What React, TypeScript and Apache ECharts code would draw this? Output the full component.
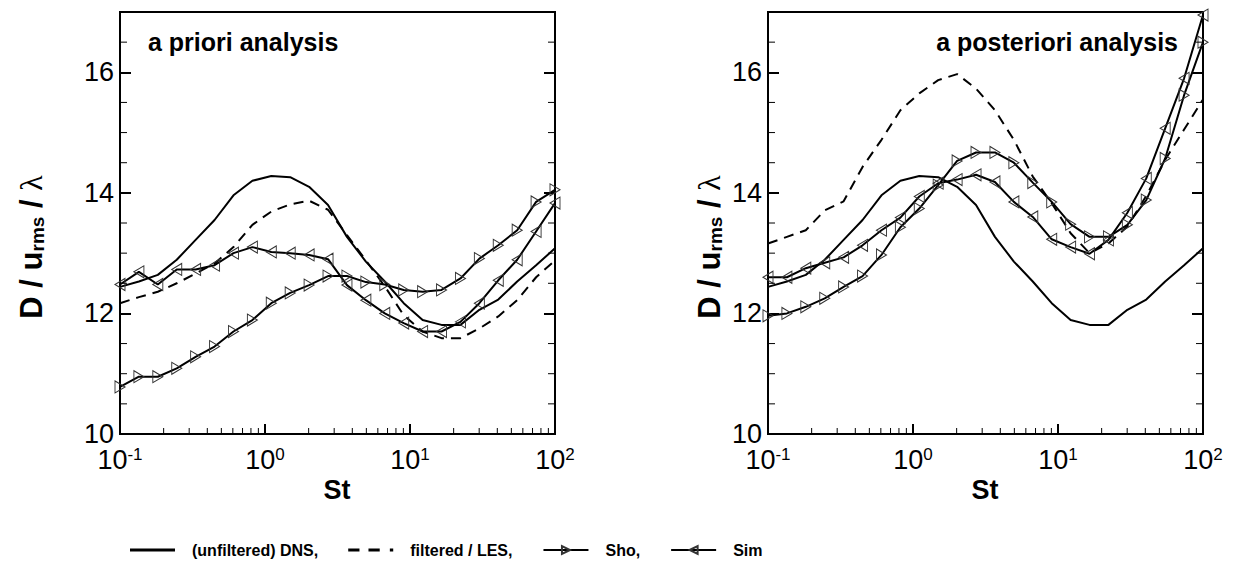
import React, { useEffect, useRef } from 'react';
import * as echarts from 'echarts';

// Stokes numbers (log-spaced sampling of the curves)
const stokes = [0.1, 0.135, 0.1823, 0.2462, 0.3323, 0.4489, 0.6061, 0.8185, 1.105, 1.492, 2.015, 2.721,
  3.674, 4.962, 6.7, 9.05, 12.22, 16.5, 22.28, 30.09, 40.62, 54.85, 74.07, 100];

// (unfiltered) DNS — same reference in both panels
const dnsValues = [12.44, 12.53, 12.64, 12.89, 13.22, 13.55, 13.96, 14.2, 14.28, 14.26, 14.1, 13.8,
  13.27, 12.86, 12.53, 12.17, 11.89, 11.81, 11.81, 12.06, 12.23, 12.53, 12.8, 13.08];

// a priori analysis
const prioriLes = [12.17, 12.27, 12.36, 12.5, 12.66, 12.83, 13.1, 13.47, 13.69, 13.81, 13.87, 13.72,
  13.3, 12.88, 12.45, 11.97, 11.7, 11.59, 11.59, 11.75, 11.95, 12.22, 12.6, 12.88];
const prioriSho = [10.78, 10.95, 10.95, 11.09, 11.28, 11.45, 11.7, 11.89, 12.17, 12.34, 12.47, 12.62,
  12.62, 12.52, 12.48, 12.39, 12.36, 12.39, 12.58, 12.91, 13.13, 13.38, 13.85, 14.05];
const prioriSim = [12.48, 12.69, 12.48, 12.73, 12.73, 12.8, 13.0, 13.1, 13.02, 13.0, 12.97, 12.9,
  12.47, 12.22, 12.0, 11.84, 11.7, 11.7, 11.86, 12.17, 12.55, 12.89, 13.36, 13.83];

// a posteriori analysis
const posterioriLes = [13.16, 13.27, 13.38, 13.71, 13.86, 14.43, 14.88, 15.37, 15.65, 15.87, 15.97, 15.73,
  15.37, 14.88, 14.27, 13.83, 13.33, 13.0, 13.16, 13.44, 13.95, 14.55, 15.05, 15.55];
const posterioriSho = [11.96, 12.0, 12.11, 12.25, 12.44, 12.62, 12.97, 13.43, 13.74, 14.13, 14.53, 14.67,
  14.67, 14.5, 14.17, 13.85, 13.48, 13.27, 13.27, 13.47, 13.88, 14.57, 15.62, 16.5];
const posterioriSim = [12.6, 12.6, 12.75, 12.84, 12.93, 13.13, 13.38, 13.59, 13.94, 14.16, 14.22, 14.3,
  14.18, 13.85, 13.6, 13.23, 13.1, 12.99, 13.22, 13.67, 14.24, 15.07, 15.9, 16.95];

const seriesNames = ['(unfiltered) DNS,', 'filtered / LES,', 'Sho,', 'Sim'];
const panelTitles = ['a priori analysis', 'a posteriori analysis'];
const xMinorTicks = [0.2, 0.3, 0.4, 0.5, 0.6, 0.7, 0.8, 0.9, 2, 3, 4, 5, 6, 7, 8, 9, 20, 30, 40, 50, 60, 70, 80, 90];
const yMinorTicks = [10.5, 11, 11.5, 12.5, 13, 13.5, 14.5, 15, 15.5, 16.5];

const FONT = '"Liberation Sans", Arial, Helvetica, sans-serif';

const pairs = (vals: number[]) => stokes.map((s, i) => [s, vals[i]]);

const tickData = [
  ...xMinorTicks.map((v) => [v, 10, 0]),
  ...yMinorTicks.map((v) => [1, v, 1]),
];

const renderTicks = (params: any, api: any) => {
  const cs = params.coordSys;
  const kind = api.value(2);
  const style = { stroke: '#000', lineWidth: 1 };
  if (kind === 0) {
    const p = api.coord([api.value(0), 10]);
    const yb = cs.y + cs.height;
    return { type: 'line', shape: { x1: p[0], y1: yb, x2: p[0], y2: yb - 6 }, style };
  }
  const p = api.coord([1, api.value(1)]);
  return {
    type: 'group',
    children: [
      { type: 'line', shape: { x1: cs.x, y1: p[1], x2: cs.x + 7, y2: p[1] }, style },
      { type: 'line', shape: { x1: cs.x + cs.width, y1: p[1], x2: cs.x + cs.width - 7, y2: p[1] }, style },
    ],
  };
};

const lineBase = { color: '#000', width: 2 };
const markerStyle = { color: 'rgba(255,255,255,0)', borderColor: '#333', borderWidth: 1 };

function panelSeries(g: number, les: number[], sho: number[], sim: number[]) {
  const axes = { xAxisIndex: g, yAxisIndex: 2 * g };
  return [
    {
      type: 'line', name: seriesNames[0], ...axes, data: pairs(dnsValues), symbol: 'none',
      lineStyle: { ...lineBase }, itemStyle: { color: '#000' }, emphasis: { disabled: true }, z: 4,
    },
    {
      type: 'line', name: seriesNames[1], ...axes, data: pairs(les), symbol: 'none',
      lineStyle: { ...lineBase, type: [10, 7] }, itemStyle: { color: '#000' }, emphasis: { disabled: true }, z: 4,
    },
    {
      type: 'line', name: seriesNames[2], ...axes, data: pairs(sho), symbol: 'triangle', symbolSize: [12, 10],
      symbolRotate: -90, lineStyle: { ...lineBase }, itemStyle: markerStyle, emphasis: { disabled: true }, z: 4,
    },
    {
      type: 'line', name: seriesNames[3], ...axes, data: pairs(sim), symbol: 'triangle', symbolSize: [12, 10],
      symbolRotate: 90, lineStyle: { ...lineBase }, itemStyle: markerStyle, emphasis: { disabled: true }, z: 4,
    },
    {
      type: 'custom', ...axes, data: tickData, renderItem: renderTicks, silent: true, z: 5,
      encode: { x: 0, y: 1 },
    },
  ];
}

function xAxisFor(g: number) {
  return {
    type: 'log', gridIndex: g, logBase: 10, min: 0.1, max: 100,
    axisLine: { show: true, lineStyle: { color: '#000', width: 2 } },
    axisTick: { show: true, inside: true, length: 10, lineStyle: { color: '#000', width: 2 } },
    splitLine: { show: false },
    minorTick: { show: false },
    axisLabel: {
      margin: 12,
      color: '#000',
      formatter: (v: number) => `{b|10}{s|${Math.round(Math.log10(v))}}`,
      rich: {
        b: { fontSize: 27, fontFamily: FONT, color: '#000' },
        s: { fontSize: 17, fontFamily: FONT, color: '#000', verticalAlign: 'top' },
      },
    },
  };
}

function yAxesFor(g: number) {
  const common = {
    type: 'value', gridIndex: g, min: 10, max: 17, interval: 2,
    axisLine: { show: true, lineStyle: { color: '#000', width: 2 } },
    axisTick: { show: true, inside: true, length: 11, lineStyle: { color: '#000', width: 2 } },
    splitLine: { show: false },
  };
  return [
    {
      ...common, position: 'left',
      axisLabel: {
        margin: 6, color: '#000', fontSize: 27, fontFamily: FONT,
        formatter: (v: number) => (v > 16.5 ? '' : String(v)),
      },
    },
    { ...common, position: 'right', axisLabel: { show: false } },
  ];
}

const yNameRich = {
  b: { fontSize: 31, fontWeight: 'bold', fontFamily: FONT, fill: '#000' },
  s: { fontSize: 19, fontWeight: 'bold', fontFamily: FONT, fill: '#000', verticalAlign: 'bottom', padding: [8, 0, 0, 0] },
  l: { fontSize: 32, fontFamily: '"Liberation Serif", "DejaVu Serif", serif', fill: '#000' },
};
const yNameText = '{b|D / u}{s|rms}{b| / }{l|λ}';

const legendData = [
  { name: seriesNames[0], icon: 'path://M0,0H45V2.8H0Z' },
  { name: seriesNames[1], icon: 'path://M0,0H10V2.8H0Z M18,0H28V2.8H18Z M37,0H40V2.8H37Z' },
  { name: seriesNames[2] },
  { name: seriesNames[3] },
];

export default function App() {
  const ref = useRef<HTMLDivElement>(null);
  useEffect(() => {
    if (!ref.current) return;
    const chart = echarts.init(ref.current, undefined, { renderer: 'svg' });
    chart.setOption({
      animation: false,
      backgroundColor: '#fff',
      grid: [
        { left: 120, top: 12, width: 435, height: 422, show: true, borderColor: '#000', borderWidth: 2, backgroundColor: 'transparent' },
        { left: 768, top: 12, width: 435, height: 422, show: true, borderColor: '#000', borderWidth: 2, backgroundColor: 'transparent' },
      ],
      xAxis: [xAxisFor(0), xAxisFor(1)],
      yAxis: [...yAxesFor(0), ...yAxesFor(1)],
      legend: {
        data: legendData,
        left: 125,
        top: 537,
        itemWidth: 45,
        itemHeight: 10,
        itemGap: 30,
        selectedMode: false,
        textStyle: { fontSize: 16, fontWeight: 'bold', fontFamily: FONT, color: '#000', padding: [0, 0, 0, 12] },
      },
      graphic: [
        { type: 'text', left: 148, top: 29, style: { text: panelTitles[0], font: `bold 25px ${FONT}`, fill: '#000' } },
        { type: 'text', right: 64, top: 29, style: { text: panelTitles[1], font: `bold 25px ${FONT}`, fill: '#000' } },
        { type: 'text', x: 337, y: 490, style: { text: 'St', font: `bold 27px ${FONT}`, fill: '#000', align: 'center', verticalAlign: 'middle' } },
        { type: 'text', x: 985, y: 490, style: { text: 'St', font: `bold 27px ${FONT}`, fill: '#000', align: 'center', verticalAlign: 'middle' } },
        { type: 'text', x: 31, y: 247, rotation: Math.PI / 2, style: { text: yNameText, rich: yNameRich, align: 'center', verticalAlign: 'middle' } },
        { type: 'text', x: 709, y: 247, rotation: Math.PI / 2, style: { text: yNameText, rich: yNameRich, align: 'center', verticalAlign: 'middle' } },
      ],
      series: [
        ...panelSeries(0, prioriLes, prioriSho, prioriSim),
        ...panelSeries(1, posterioriLes, posterioriSho, posterioriSim),
      ],
    });
    return () => chart.dispose();
  }, []);
  return <div ref={ref} style={{ position: 'fixed', left: 0, top: 0, width: 1242, height: 581 }} />;
}
